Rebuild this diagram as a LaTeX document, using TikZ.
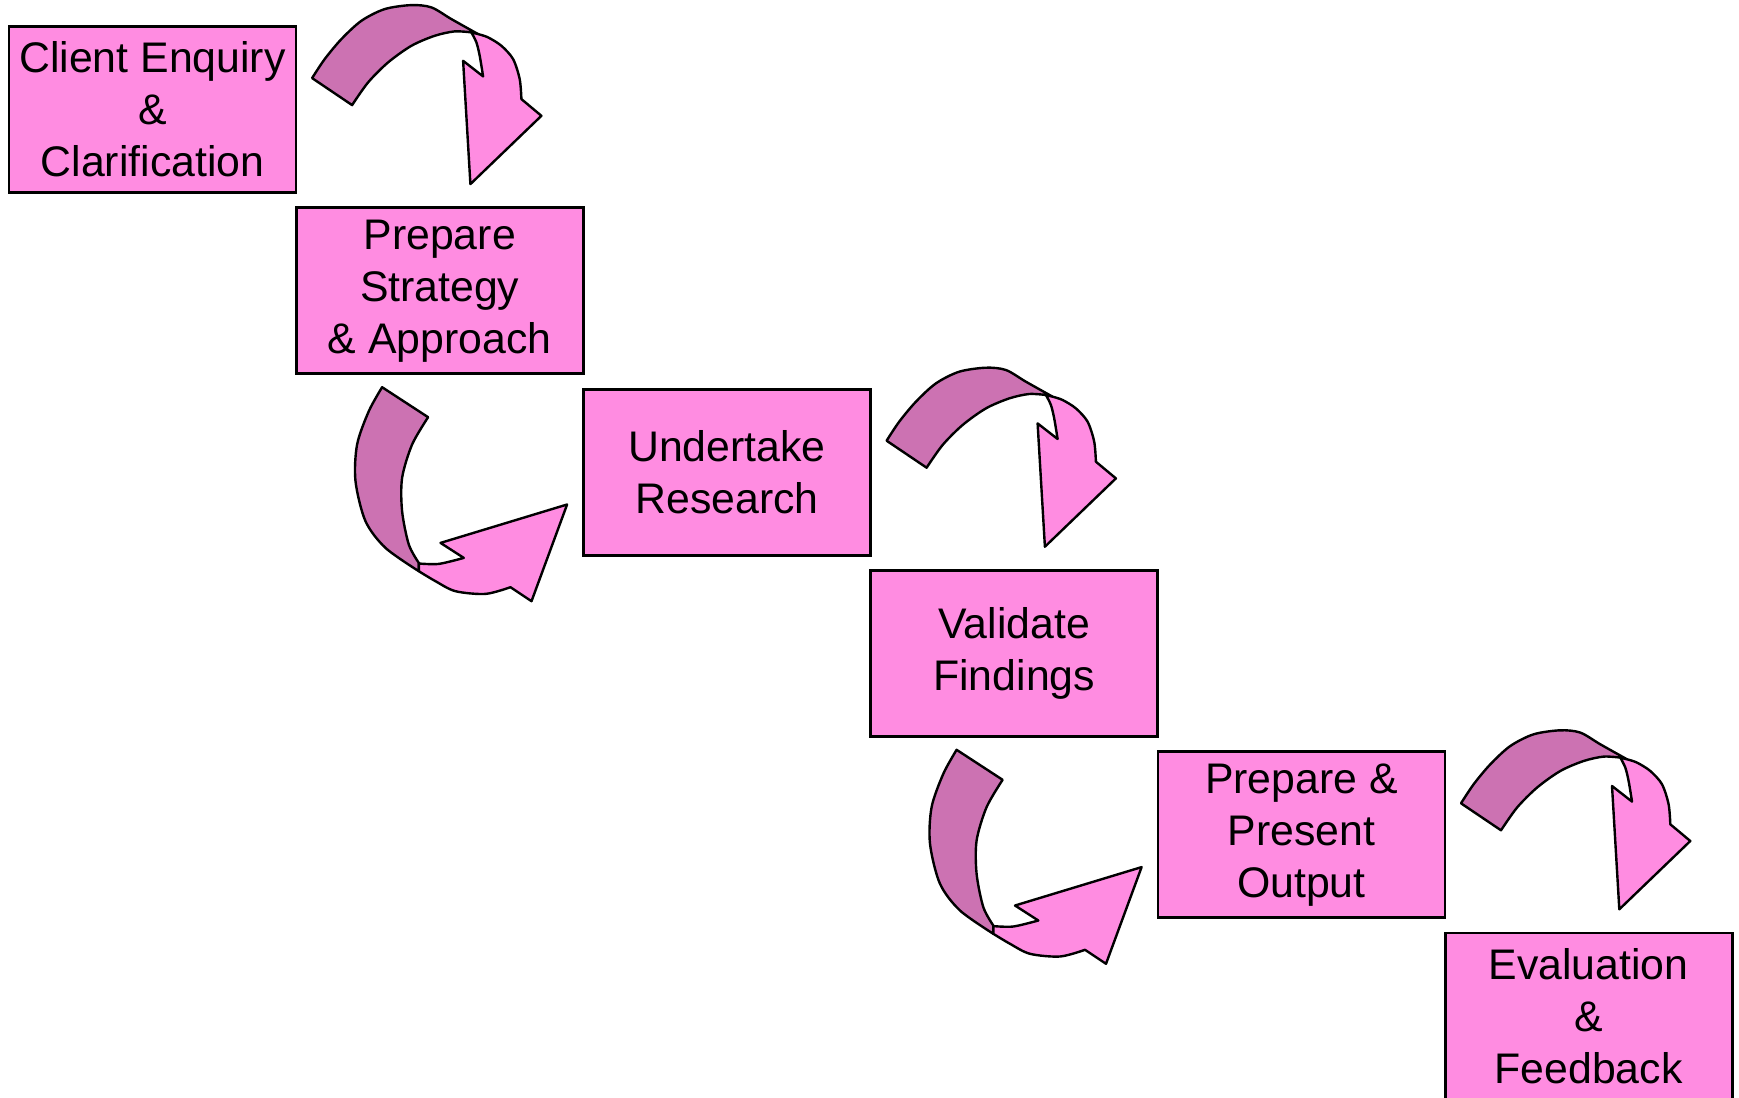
\documentclass[tikz,border=0pt]{standalone}
\usepackage{fontspec}
\setmainfont{Liberation Sans}
\definecolor{boxpink}{RGB}{255,140,225}
\definecolor{darkpink}{RGB}{204,114,178}
\tikzset{
  stage/.style={draw=black, line width=1.4pt, fill=boxpink, minimum width=143.5pt,
    minimum height=83pt, align=center, inner sep=0pt,
    font=\fontsize{21.4}{26}\selectfont},
  ribbonback/.style={draw=black, line width=1.2pt, fill=darkpink, line join=round},
  ribbonfront/.style={draw=black, line width=1.2pt, fill=boxpink, line join=round},
  turnover/.pic={
    \path[ribbonback] (14.7,53) -- plot[smooth] coordinates {(14.7,53)(27.3,34)(44,14)(64,-4.3)(87.3,-16)(114,-20)(134,-17.7)(154,-6)(180.7,9)}
      -- (174,7.3) -- plot[smooth] coordinates {(174,7.3)(157.3,6.3)(137.3,10.7)(114,20.7)(90.7,37.3)(70.7,57.3)(54.7,80)} -- cycle;
    \path[ribbonfront] (174,7.3) -- plot[smooth] coordinates {(174,7.3)(179,17.3)(182.3,30.7)(185.7,51.3)}
      -- (165.7,35.7) -- (173,159) -- (244,90.7) -- (224,74)
      -- plot[smooth] coordinates {(224,74)(222.3,54)(215.7,34)(204,20.7)(190.7,12.3)(180.7,9)} -- cycle;
  },
  hookback/.pic={
    \path[ribbonback] (87.3,12) -- (133.3,42)
      -- plot[smooth] coordinates {(133.3,42)(117.3,69.3)(107.3,102.7)(107.3,136)(114,169.3)(124,187.7)}
      -- (124,196)
      -- plot[smooth] coordinates {(124,196)(90.7,172.7)(70.7,146)(60.7,106)(62.3,69.3)(74,36)(87.3,12)} -- cycle;
    \path[ribbonfront] (124,188.3) -- plot[smooth] coordinates {(124,188.3)(144,188.7)(169,182.7)}
      -- (145.7,167.7) -- (272.3,129.3) -- (236.7,226) -- (215.7,212)
      -- plot[smooth] coordinates {(215.7,212)(190.7,218.7)(160.7,216)(140.7,206)(124,196)} -- cycle;
  }
}
\begin{document}
\begin{tikzpicture}[x=0.5pt,y=-0.5pt]
\useasboundingbox (0,0) rectangle (1739,1097);
\fill[white] (0,0) rectangle (1739,1097);
\node[stage] (c1) at (152.5,109.5) {Client Enquiry\\\&\\Clarification};
\node[stage] (c2) at (439.7,290.8) {Prepare\\Strategy\\\& Approach};
\node[stage] (c3) at (727,472.1) {Undertake\\Research};
\node[stage] (c4) at (1014.2,653.4) {Validate\\Findings};
\node[stage] (c5) at (1301.4,834.7) {Prepare \&\\Present\\Output};
\node[stage] (c6) at (1588.6,1016) {Evaluation\\\&\\Feedback};
\pic at (c1.north east) {turnover};
\pic at (c3.north east) {turnover};
\pic at (c5.north east) {turnover};
\pic at (c2.south west) {hookback};
\pic at (c4.south west) {hookback};
\end{tikzpicture}
\end{document}
